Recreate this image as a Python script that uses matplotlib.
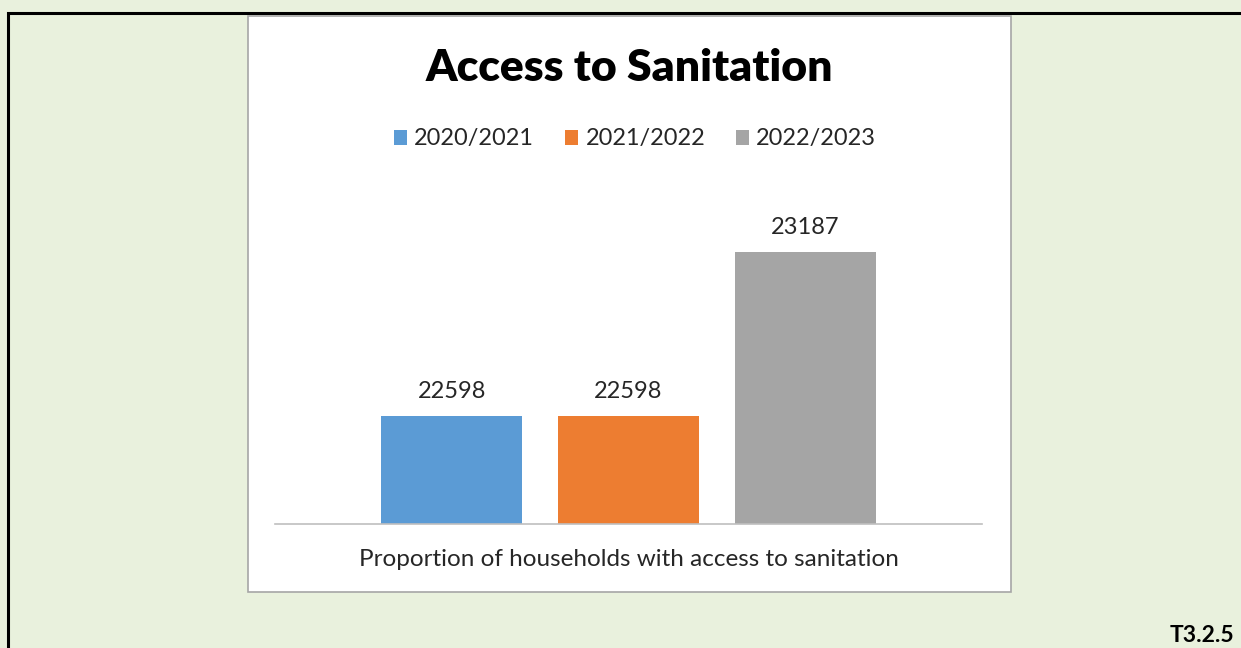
import matplotlib
matplotlib.use("Agg")
import matplotlib.pyplot as plt
from matplotlib.patches import Rectangle

# Data
series = ["2020/2021", "2021/2022", "2022/2023"]
values = [22598, 22598, 23187]
colors = ["#5B9BD5", "#ED7D31", "#A5A5A5"]
category_label = "Proportion of households with access to sanitation"
title = "Access to Sanitation"
tag = "T3.2.5"

W, H = 1241, 648
fig = plt.figure(figsize=(W / 100, H / 100), dpi=100)
fig.patch.set_facecolor("#E9F1DD")
plt.rcParams["font.family"] = ["Lato", "DejaVu Sans"]

def fx(px):
    return px / W

def fy(py):
    return 1 - py / H

# outer black border (extends past right/bottom)
fig.patches.append(Rectangle((fx(8), fy(700)), fx(1300), fy(13) - fy(700),
                             transform=fig.transFigure, fill=False,
                             edgecolor="black", linewidth=2.2, zorder=0))
# white chart box
fig.patches.append(Rectangle((fx(248), fy(592)), fx(1011) - fx(248), fy(16) - fy(592),
                             transform=fig.transFigure, facecolor="white",
                             edgecolor="#A6A6A6", linewidth=1.2, zorder=1))

ax = fig.add_axes([fx(275), fy(524), fx(982) - fx(275), fy(190) - fy(524)])
ax.set_facecolor("none")
ax.set_zorder(2)

offsets = [-0.25, 0.0, 0.25]
bw = 0.2
ymin, ymax = 22210, 23410
for s, v, c, o in zip(series, values, colors, offsets):
    ax.bar(o, v - ymin, bottom=ymin, width=bw, color=c, label=s)
    ax.text(o, v + 50, f"{v}", ha="center", va="bottom", fontsize=17, color="#262626")

ax.set_xlim(-0.5, 0.5)
ax.set_ylim(ymin, ymax)
for sp in ["top", "right", "left"]:
    ax.spines[sp].set_visible(False)
ax.spines["bottom"].set_color("#BFBFBF")
ax.spines["bottom"].set_linewidth(1.2)
ax.set_xticks([])
ax.set_yticks([])

fig.text(fx(629), fy(68), title, ha="center", va="center", fontsize=32,
         fontweight="heavy", color="black")
fig.text(fx(629), fy(560), category_label, ha="center", va="center",
         fontsize=17.5, color="#262626")
fig.text(fx(1234), fy(636), tag, ha="right", va="center", fontsize=16.5,
         fontweight="bold", color="black")

leg = ax.legend(loc="center", bbox_to_anchor=(fx(635), fy(139)),
                bbox_transform=fig.transFigure, ncol=3, frameon=False,
                fontsize=16.9, handlelength=0.58, handleheight=0.58,
                handletextpad=0.3, columnspacing=1.3)
for t in leg.get_texts():
    t.set_color("#262626")

fig.savefig("out.png", dpi=100, facecolor=fig.get_facecolor())
